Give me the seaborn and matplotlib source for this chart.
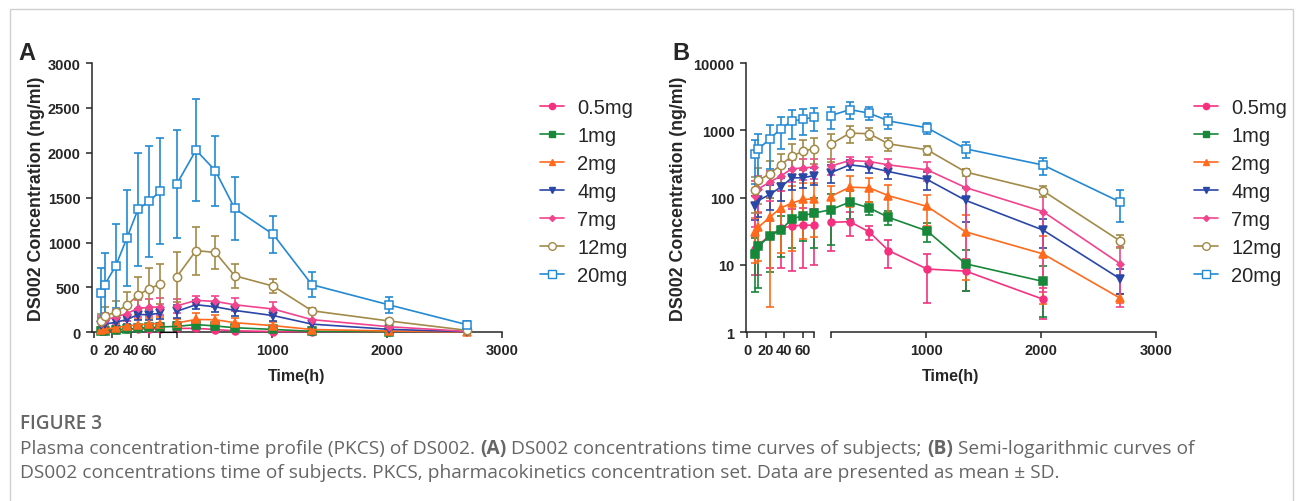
import numpy as np
import pandas as pd
import matplotlib
matplotlib.use("Agg")
import matplotlib.pyplot as plt
from matplotlib.colors import to_hex
from matplotlib.lines import Line2D
from matplotlib.patches import Rectangle, ConnectionPatch
from matplotlib.ticker import NullLocator
import seaborn as sns

# sampling times (h) and dose groups
hours = [8, 12, 24, 36, 48, 60, 72, 168, 336, 504, 672, 1008, 1344, 2016, 2688]
doses = ["0.5mg", "1mg", "2mg", "4mg", "7mg", "12mg", "20mg"]

# mean and SD per dose (ng/ml)
mean_05 = [17, 20, 27, 35, 38, 39, 39, 43, 44, 31, 16.4, 8.7, 8.1, 3.1, np.nan]
sd_05 = [10, 13, 18, 26, 30, 30, 29, 27, 17, 7.5, 7.4, 6, 4, 1.5, np.nan]
mean_1 = [14.6, 19, 26.8, 33, 48, 54, 59, 66, 86, 70.5, 51, 32, 10.4, 5.7, np.nan]
sd_1 = [10.6, 14.5, 19, 20, 30, 31, 41, 46, 38, 15, 12, 10, 6.3, 4, np.nan]
mean_2 = [30.7, 36.4, 51, 70, 83, 94, 96, 104, 143, 140, 107, 74, 31, 14.6, 3.2]
sd_2 = [20, 25, 48.6, 55, 67, 70, 70, 45, 70, 55, 47, 36, 25, 12, 0.5]
mean_4 = [76, 91, 111, 143, 197, 197, 213, 234, 307, 284, 244, 186, 91, 33, 6.2]
sd_4 = [30, 40, 45, 55, 65, 60, 60, 70, 50, 55, 57, 57, 47, 15, 2.5]
mean_7 = [107, 135, 170, 209, 268, 277, 284, 294, 356, 344, 307, 259, 141, 62, 10.4]
sd_7 = [70, 75, 80, 85, 95, 95, 95, 80, 50, 60, 70, 80, 130, 58, 8]
mean_12 = [130, 180, 226, 304, 414, 485, 537, 617, 910, 890, 630, 514, 240, 126, 22.6]
sd_12 = [70, 100, 126, 141, 205, 228, 220, 274, 267, 180, 131, 80, 30, 25, 5]
mean_20 = [440, 530, 740, 1050, 1370, 1460, 1570, 1650, 2030, 1800, 1380, 1090, 530, 305, 86]
sd_20 = [280, 350, 470, 530, 630, 620, 590, 600, 570, 390, 350, 210, 140, 85, 42]

means = [mean_05, mean_1, mean_2, mean_4, mean_7, mean_12, mean_20]
sds = [sd_05, sd_1, sd_2, sd_4, sd_7, sd_12, sd_20]

palette = {"0.5mg": "#f5317f", "1mg": "#17873a", "2mg": "#ff6a1c", "4mg": "#2a47a8",
           "7mg": "#f2448e", "12mg": "#a28a48", "20mg": "#2389d3"}
markers = {"0.5mg": "o", "1mg": "s", "2mg": "^", "4mg": "v", "7mg": "D", "12mg": "o", "20mg": "s"}
msizes = {"0.5mg": 5, "1mg": 5.5, "2mg": 5.5, "4mg": 5.5, "7mg": 3.5, "12mg": 6, "20mg": 6}
open_marks = ["12mg", "20mg"]

rows = []
for dose, m, s in zip(doses, means, sds):
    for t, mv, sv in zip(hours, m, s):
        if not np.isnan(mv):
            rows.append({"time": t, "conc": mv, "sd": sv, "dose": dose})
df = pd.DataFrame(rows)

sns.set_style("ticks")
plt.rcParams["font.family"] = ["Liberation Sans", "DejaVu Sans"]

W, H = 1296, 502
fig = plt.figure(figsize=(W / 100, H / 100), dpi=100)
fig.add_artist(Rectangle((10 / W, -0.1), 1283 / W, 1.1 - 10 / H, transform=fig.transFigure,
                         fill=False, edgecolor="#cfcfcf", linewidth=1))

LW = 1.1
TICK_FS = 10.5


def fx(px):
    return px / W


def fy(py):
    return 1 - py / H


def draw_panel(x0, log, letter, split_axis):
    bottom, top = 333.3, 64.0
    axl = fig.add_axes([fx(x0), fy(bottom), 68.5 / W, (bottom - top) / H])
    axr = fig.add_axes([fx(x0 + 85), fy(bottom), 325.7 / W, (bottom - top) / H], sharey=axl)
    for ax, (lo, hi) in ((axl, (-2, 72)), (axr, (168, 3000))):
        seg = df[(df.time >= lo) & (df.time <= hi)]
        sns.lineplot(data=seg, x="time", y="conc", hue="dose", style="dose",
                     hue_order=doses, style_order=doses, palette=palette, markers=markers,
                     dashes=False, estimator=None, sort=True, legend=False, ax=ax,
                     linewidth=1.2, zorder=3)
        for line in ax.lines:
            line.set_clip_on(False)
            c = to_hex(line.get_color())
            for d in doses:
                if to_hex(palette[d]) == c:
                    line.set_markeredgecolor(palette[d])
                    line.set_markeredgewidth(1.1)
                    line.set_markersize(msizes[d])
                    if d in open_marks:
                        line.set_markerfacecolor("white")
        for d in doses:
            sub = seg[seg.dose == d]
            eb = ax.errorbar(sub.time, sub.conc, yerr=sub.sd, fmt="none", ecolor=palette[d],
                             elinewidth=1.2, capsize=2.6, capthick=1.2, zorder=2)
            for art in eb.lines[1] + eb.lines[2]:
                art.set_clip_on(False)
        ax.set_xlim(lo, hi)
        ax.set_xlabel("")
        ax.set_ylabel("")
        ax.spines["top"].set_visible(False)
        ax.spines["right"].set_visible(False)
        ax.spines["bottom"].set_linewidth(LW)
        ax.spines["left"].set_linewidth(LW)
        ax.tick_params(length=4, width=LW, labelsize=TICK_FS, pad=4)

    axl.set_xticks([0, 20, 40, 60, 72])
    axl.set_xticklabels(["0", "20", "40", "60", ""], fontweight="bold", fontsize=TICK_FS)
    axr.set_xticks([168, 1000, 2000, 3000])
    axr.set_xticklabels(["", "1000", "2000", "3000"], fontweight="bold", fontsize=TICK_FS)
    axr.spines["left"].set_visible(False)
    axr.tick_params(axis="y", left=False, labelleft=False)

    if log:
        axl.set_yscale("log")
        axl.set_ylim(1, 10000)
        ticks = [1, 10, 100, 1000, 10000]
    else:
        axl.set_ylim(0, 3000)
        ticks = [0, 500, 1000, 1500, 2000, 2500, 3000]
    axl.set_yticks(ticks)
    axl.set_yticklabels([str(t) for t in ticks], fontweight="bold", fontsize=TICK_FS)
    axl.yaxis.set_minor_locator(NullLocator())
    axl.xaxis.set_minor_locator(NullLocator())
    axr.xaxis.set_minor_locator(NullLocator())

    if not split_axis:
        fig.add_artist(ConnectionPatch(xyA=(1, 0), coordsA=axl.transAxes, xyB=(0, 0),
                                       coordsB=axr.transAxes, color="black", linewidth=LW))

    # the 1mg curve runs through the break
    i72, i168 = hours.index(72), hours.index(168)
    fig.add_artist(ConnectionPatch(xyA=(72, mean_1[i72]), coordsA=axl.transData,
                                   xyB=(168, mean_1[i168]), coordsB=axr.transData,
                                   color=palette["1mg"], linewidth=1.2, zorder=3))

    fig.text(fx(x0 - 64.5), fy(54), letter, fontsize=17, fontweight="bold", ha="center", va="center")
    ylab_x = x0 - 55 if not log else x0 - 67
    fig.text(fx(ylab_x), fy(198.4), "DS002 Concentration (ng/ml)", rotation=90, fontsize=12.8,
             fontweight="bold", ha="center", va="center")
    fig.text(fx(x0 + 205), fy(377), "Time(h)", fontsize=11.5, fontweight="bold", ha="center", va="center")

    handles = [Line2D([], [], color=palette[d], marker=markers[d], markersize=msizes[d] - 0.5,
                      markerfacecolor="white" if d in open_marks else palette[d],
                      markeredgecolor=palette[d], markeredgewidth=1.0, linewidth=1.2)
               for d in doses]
    fig.legend(handles, doses, loc="upper left", bbox_to_anchor=(fx(x0 + 448.5), fy(99)),
               frameon=False, fontsize=14.5, handlelength=1.2, handletextpad=0.65,
               labelspacing=0.45, borderpad=0, borderaxespad=0)


draw_panel(91.7, False, "A", False)
draw_panel(745.5, True, "B", True)

# caption
gray = "#666666"
renderer = fig.canvas.get_renderer()


def caption_line(x, y, parts, size):
    for text, weight in parts:
        t = fig.text(fx(x), fy(y), text, fontsize=size, fontweight=weight, color=gray,
                     family="Open Sans", va="baseline", ha="left")
        bb = t.get_window_extent(renderer=renderer)
        x += bb.width


fig.text(fx(20), fy(429), "FIGURE 3", fontsize=13.7, fontweight="semibold", color=gray,
         family="Open Sans", va="baseline")
caption_line(20, 454, [("Plasma concentration-time profile (PKCS) of DS002. ", "normal"),
                       ("(A)", "bold"),
                       (" DS002 concentrations time curves of subjects; ", "normal"),
                       ("(B)", "bold"),
                       (" Semi-logarithmic curves of", "normal")], 13.75)
caption_line(20, 478, [("DS002 concentrations time of subjects. PKCS, pharmacokinetics concentration set. "
                        "Data are presented as mean \u00b1 SD.", "normal")], 13.75)

fig.savefig("out.png", dpi=100)
